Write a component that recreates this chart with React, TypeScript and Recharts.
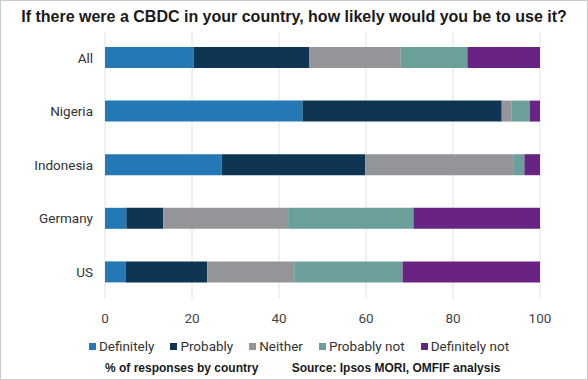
import { BarChart, Bar, XAxis, YAxis, CartesianGrid, Legend } from "recharts";

const countries = ["All", "Nigeria", "Indonesia", "Germany", "US"];
const definitely = [20.4, 45.4, 26.8, 4.9, 4.7];
const probably = [26.5, 45.8, 33.0, 8.5, 18.8];
const neither = [21.1, 2.3, 34.2, 28.7, 20.0];
const probablyNot = [15.3, 4.2, 2.4, 28.8, 24.9];
const definitelyNot = [16.7, 2.3, 3.6, 29.1, 31.6];
const xTicks = [0, 20, 40, 60, 80, 100];

const series = [
  { key: "definitely", name: "Definitely", color: "#2479b4" },
  { key: "probably", name: "Probably", color: "#0e3653" },
  { key: "neither", name: "Neither", color: "#939598" },
  { key: "probablyNot", name: "Probably not", color: "#6b9f9a" },
  { key: "definitelyNot", name: "Definitely not", color: "#692383" },
];

const data = countries.map((country, i) => ({
  country,
  definitely: definitely[i],
  probably: probably[i],
  neither: neither[i],
  probablyNot: probablyNot[i],
  definitelyNot: definitelyNot[i],
}));

const textFont = "Roboto, 'Liberation Sans', Arial, sans-serif";
const boldFont = "'Liberation Sans', Arial, sans-serif";

// legend keeps the series order (recharts sorts by name otherwise)
function renderLegend() {
  return (
    <div style={{ display: "flex", justifyContent: "center", fontFamily: textFont, fontSize: 13.5, color: "#333" }}>
      {series.map((s, i) => (
        <span
          key={s.key}
          style={{ display: "inline-flex", alignItems: "center", marginLeft: i === 0 ? 0 : 16 }}
        >
          <span style={{ width: 7, height: 7, background: s.color, marginRight: 3, display: "inline-block" }} />
          {s.name}
        </span>
      ))}
    </div>
  );
}

export default function App() {
  return (
    <div
      style={{
        position: "absolute",
        left: 0,
        top: 0,
        width: 588,
        height: 380,
        boxSizing: "border-box",
        border: "1px solid #c9c9c9",
        background: "#fff",
        overflow: "hidden",
      }}
    >
      <div
        style={{
          position: "absolute",
          top: 7,
          left: 0,
          width: 586,
          textAlign: "center",
          fontFamily: boldFont,
          fontWeight: "bold",
          fontSize: 16,
          color: "#1a1a1a",
        }}
      >
        If there were a CBDC in your country, how likely would you be to use it?
      </div>
      <div style={{ position: "absolute", left: -1, top: -1 }}>
        <BarChart
          width={588}
          height={380}
          data={data}
          layout="vertical"
          margin={{ top: 31, right: 48, bottom: 32, left: 0 }}
          barCategoryGap={16}
        >
          <CartesianGrid horizontal={false} stroke="#e2e2e2" />
          <XAxis
            type="number"
            domain={[0, 100]}
            ticks={xTicks}
            axisLine={false}
            tickLine={false}
            tickMargin={8}
            tick={{ fontSize: 13.5, fill: "#444", fontFamily: textFont }}
          />
          <YAxis
            type="category"
            dataKey="country"
            width={105}
            axisLine={false}
            tickLine={false}
            tickMargin={6}
            tick={{ fontSize: 13.5, fill: "#333", fontFamily: textFont }}
          />
          {series.map((s) => (
            <Bar
              key={s.key}
              dataKey={s.key}
              name={s.name}
              stackId="a"
              fill={s.color}
              barSize={21}
              isAnimationActive={false}
            />
          ))}
          <Legend
            verticalAlign="bottom"
            height={19}
            content={renderLegend}
            wrapperStyle={{ top: 338, left: 0, width: 598 }}
          />
        </BarChart>
      </div>
      <div
        style={{
          position: "absolute",
          top: 360,
          left: 104,
          fontFamily: boldFont,
          fontWeight: "bold",
          fontSize: 12,
          color: "#1a1a1a",
          whiteSpace: "pre",
        }}
      >
        {"% of responses by country          Source: Ipsos MORI, OMFIF analysis"}
      </div>
    </div>
  );
}
